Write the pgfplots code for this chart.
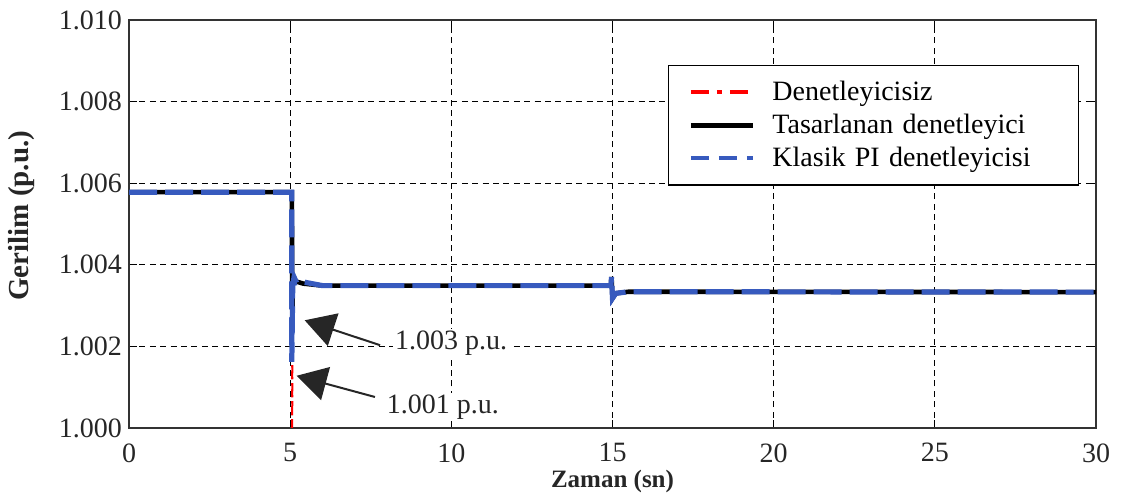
\documentclass[border=0pt]{standalone}
\usepackage{pgfplots}
\pgfplotsset{compat=1.18}
\usepackage{fontspec}
\setmainfont{Liberation Serif}
\usetikzlibrary{arrows.meta}
\definecolor{pblue}{RGB}{55,90,190}
\begin{document}
\begin{tikzpicture}
\begin{axis}[
  at={(64.5pt,34.5pt)}, anchor=south west,
  scale only axis, width=483.5pt, height=204pt,
  xmin=0, xmax=30, ymin=1.000, ymax=1.010,
  xtick={0,5,...,30}, ytick={1.000,1.002,...,1.010},
  tick align=inside, major tick length=4pt,
  tick style={black, line width=0.5pt},
  axis line style={line width=0.7pt, black!80},
  grid=major, grid style={black, line width=0.5pt, dash pattern=on 3pt off 2.2pt},
  /pgf/number format/assume math mode=true,
  yticklabel style={/pgf/number format/.cd, fixed, fixed zerofill, precision=3},
  xticklabel style={inner sep=0pt, yshift=-7.5pt},
  scaled y ticks=false,
  ticklabel style={font=\fontsize{14}{16}\selectfont, text=black!85},
  xlabel={Zaman (sn)}, ylabel={Gerilim (p.u.)},
  xlabel style={at={(axis description cs:0.5,-0.131)}, anchor=center, inner sep=0pt, font=\bfseries\fontsize{12.5}{14}\selectfont, text=black!85},
  ylabel style={at={(axis description cs:-0.1107,0.52)}, anchor=center, font=\bfseries\fontsize{14.5}{16}\selectfont, text=black!85},
  legend style={at={(rel axis cs:0.557,0.89)}, anchor=north west, draw=black, line width=0.8pt, fill=white,
    font=\fontsize{14}{16}\selectfont, row sep=0pt, inner xsep=10pt, inner ysep=5.2pt,
    nodes={inner xsep=0pt, inner ysep=2.6pt},
    /tikz/every odd column/.append style={column sep=8.5pt},
    /tikz/every even column/.append style={text width=143pt}},
  legend cell align=left,
  legend image code/.code={\draw[#1] (0pt,0pt) -- (31pt,0pt);},
]
% red: without controller
\addplot[red, line width=1pt, dash pattern=on 4pt off 2pt on 1pt off 2pt, forget plot] coordinates {
(0,1.00578) (5.05,1.00578) (5.06,0.9996) (5.08,1.00375) (5.15,1.0036) (5.4,1.00354) (6,1.00349) (14.95,1.00349) (14.97,1.0037) (15.0,1.00318) (15.1,1.0033) (15.5,1.00334) (30,1.00333)
};
% black: designed controller
\addplot[black, line width=2.3pt, forget plot] coordinates {
(0,1.00578) (5.05,1.00578) (5.07,1.0026) (5.08,1.00375) (5.15,1.0036) (5.4,1.00354) (6,1.00349) (14.95,1.00349) (14.97,1.0037) (15.0,1.00318) (15.1,1.0033) (15.5,1.00334) (30,1.00333)
};
% blue: classic PI
\addplot[pblue, line width=2.6pt, dash pattern=on 14pt off 4pt, forget plot] coordinates {
(0,1.00578) (5.05,1.00578) (5.05,1.00162) (5.08,1.0035) (5.12,1.0037) (5.2,1.00356) (5.4,1.00358) (6,1.00349) (14.95,1.00349) (14.97,1.0037) (15.0,1.00318) (15.1,1.0033) (15.5,1.00334) (30,1.00333)
};
\addlegendimage{red, line width=2pt, dash pattern=on 9pt off 4pt on 2.5pt off 4pt}
\addlegendimage{black, line width=2.5pt}
\addlegendimage{pblue, line width=2.2pt, dash pattern=on 9pt off 5pt}
\legend{Denetleyicisiz, Tasarlanan denetleyici, Klasik PI denetleyicisi}
% annotations
\node[fill=white, inner sep=1pt, font=\fontsize{14}{16}\selectfont, text=black!85] at (axis cs:9.99,1.00208) {1.003 p.u.};
\node[fill=white, inner sep=1pt, font=\fontsize{14}{16}\selectfont, text=black!85] at (axis cs:9.74,1.000515) {1.001 p.u.};
\draw[black!85, line width=1pt, -{Triangle[length=15pt, width=17pt]}] (axis cs:7.79,1.00203) -- (axis cs:5.45,1.00264);
\draw[black!85, line width=1pt, -{Triangle[length=15pt, width=17pt]}] (axis cs:7.63,1.00076) -- (axis cs:5.2,1.00128);
\end{axis}
\pgfresetboundingbox
\path[use as bounding box] (0,0) rectangle (561.5pt,248.5pt);
\end{tikzpicture}
\end{document}
